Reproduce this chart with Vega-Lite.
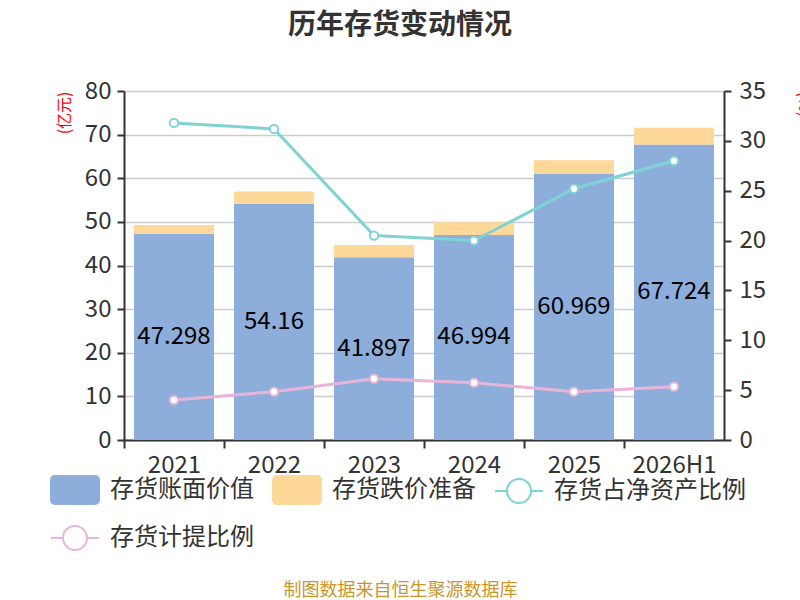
{
  "$schema": "https://vega.github.io/schema/vega-lite/v6.json",
  "width": 600,
  "height": 349,
  "autosize": {"type": "none"},
  "padding": {"left": 124, "top": 91, "right": 76, "bottom": 160},
  "title": {
    "text": "历年存货变动情况",
    "font": "Noto Sans CJK SC",
    "fontSize": 28,
    "fontWeight": "bold",
    "color": "#333333",
    "anchor": "middle",
    "dx": -24,
    "offset": 39
  },
  "config": {
    "view": {"stroke": null},
    "font": "Noto Sans CJK SC",
    "axis": {
      "labelFont": "Noto Sans CJK SC",
      "labelFontSize": 24,
      "labelColor": "#333333",
      "domainColor": "#333333",
      "domainWidth": 2,
      "tickColor": "#333333",
      "tickWidth": 2,
      "gridColor": "#cccccc",
      "gridWidth": 1.5
    }
  },
  "data": {
    "values": [
      {"year": "2021", "series": "存货账面价值", "value": 47.298},
      {"year": "2022", "series": "存货账面价值", "value": 54.16},
      {"year": "2023", "series": "存货账面价值", "value": 41.897},
      {"year": "2024", "series": "存货账面价值", "value": 46.994},
      {"year": "2025", "series": "存货账面价值", "value": 60.969},
      {"year": "2026H1", "series": "存货账面价值", "value": 67.724},
      {"year": "2021", "series": "存货跌价准备", "value": 2.0},
      {"year": "2022", "series": "存货跌价准备", "value": 2.8},
      {"year": "2023", "series": "存货跌价准备", "value": 2.8},
      {"year": "2024", "series": "存货跌价准备", "value": 2.9},
      {"year": "2025", "series": "存货跌价准备", "value": 3.15},
      {"year": "2026H1", "series": "存货跌价准备", "value": 3.85},
      {"year": "2021", "series": "存货占净资产比例", "value": 31.8},
      {"year": "2022", "series": "存货占净资产比例", "value": 31.2},
      {"year": "2023", "series": "存货占净资产比例", "value": 20.5},
      {"year": "2024", "series": "存货占净资产比例", "value": 20.0},
      {"year": "2025", "series": "存货占净资产比例", "value": 25.2},
      {"year": "2026H1", "series": "存货占净资产比例", "value": 28.0},
      {"year": "2021", "series": "存货计提比例", "value": 4.0},
      {"year": "2022", "series": "存货计提比例", "value": 4.85},
      {"year": "2023", "series": "存货计提比例", "value": 6.15},
      {"year": "2024", "series": "存货计提比例", "value": 5.75},
      {"year": "2025", "series": "存货计提比例", "value": 4.85},
      {"year": "2026H1", "series": "存货计提比例", "value": 5.35}
    ]
  },
  "encoding": {
    "x": {
      "field": "year",
      "type": "ordinal",
      "sort": null,
      "scale": {"paddingInner": 0.2, "paddingOuter": 0.1},
      "axis": {
        "title": "制图数据来自恒生聚源数据库",
        "titleFont": "Noto Sans CJK SC",
        "titleFontSize": 18,
        "titleFontWeight": "normal",
        "titleColor": "#C9962C",
        "titleX": 276,
        "titleY": 150,
        "titleAlign": "center",
        "titleBaseline": "middle",
        "labelAngle": 0,
        "tickOffset": -50,
        "labelOffset": 50,
        "tickSize": 8,
        "labelPadding": 5
      }
    }
  },
  "layer": [
    {
      "transform": [{"filter": {"field": "series", "oneOf": ["存货账面价值", "存货跌价准备"]}}],
      "mark": {"type": "bar"},
      "encoding": {
        "y": {
          "field": "value",
          "type": "quantitative",
          "stack": "zero",
          "scale": {"domain": [0, 80], "nice": false},
          "axis": {
            "orient": "left",
            "values": [0, 10, 20, 30, 40, 50, 60, 70, 80],
            "grid": true,
            "tickSize": 7,
            "labelPadding": 6,
            "title": "(亿元)",
            "titleColor": "#ff0000",
            "titleFont": "Noto Sans CJK SC",
            "titleFontSize": 16,
            "titleFontWeight": "normal",
            "titleAnchor": "end",
            "titlePadding": 12
          }
        },
        "fill": {
          "field": "series",
          "type": "nominal",
          "scale": {
            "domain": ["存货账面价值", "存货跌价准备", "存货占净资产比例", "存货计提比例"],
            "range": ["#8DADDB", "#FED898", "#ffffff", "#ffffff"]
          },
          "legend": {
            "title": null,
            "orient": "none",
            "legendX": -74,
            "legendY": 374,
            "direction": "horizontal",
            "columns": 3,
            "padding": 0,
            "columnPadding": 15,
            "rowPadding": 5,
            "labelFont": "Noto Sans CJK SC",
            "labelFontSize": 24,
            "labelColor": "#333333",
            "labelOffset": 10,
            "labelLimit": 300,
            "symbolSize": 2304,
            "symbolStrokeWidth": 2,
            "symbolType": {"expr": "indexof(['存货占净资产比例', '存货计提比例'], datum.value) >= 0 ? 'M-1,0H-0.5A0.5,0.5,0,1,1,0.5,0A0.5,0.5,0,1,1,-0.5,0M0.5,0H1' : 'M-0.85,-0.58H0.85A0.15,0.15,0,0,1,1,-0.43V0.43A0.15,0.15,0,0,1,0.85,0.58H-0.85A0.15,0.15,0,0,1,-1,0.43V-0.43A0.15,0.15,0,0,1,-0.85,-0.58Z'"}
          }
        },
        "order": {"field": "series", "sort": "ascending"}
      }
    },
    {
      "transform": [{"filter": {"field": "series", "equal": "存货账面价值"}}],
      "mark": {"type": "text", "fontSize": 24, "color": "#000000", "baseline": "middle", "font": "Noto Sans CJK SC"},
      "encoding": {
        "y": {
          "field": "value",
          "type": "quantitative",
          "scale": {"domain": [0, 160], "nice": false},
          "axis": null
        },
        "text": {"field": "value", "type": "nominal"}
      }
    },
    {
      "transform": [{"filter": {"field": "series", "oneOf": ["存货占净资产比例", "存货计提比例"]}}],
      "mark": {
        "type": "line",
        "strokeWidth": 3,
        "point": {"filled": false, "fill": "white", "size": 70, "strokeWidth": 2}
      },
      "encoding": {
        "y": {
          "field": "value",
          "type": "quantitative",
          "scale": {"domain": [0, 35], "nice": false},
          "axis": {
            "orient": "right",
            "values": [0, 5, 10, 15, 20, 25, 30, 35],
            "grid": false,
            "tickSize": 7,
            "labelPadding": 8,
            "title": "(%)",
            "titleColor": "#ff0000",
            "titleFont": "Noto Sans CJK SC",
            "titleFontSize": 16,
            "titleFontWeight": "normal",
            "titleAnchor": "end",
            "titleAlign": "left",
            "titlePadding": 30
          }
        },
        "stroke": {
          "field": "series",
          "type": "nominal",
          "scale": {
            "domain": ["存货账面价值", "存货跌价准备", "存货占净资产比例", "存货计提比例"],
            "range": ["#8DADDB", "#FED898", "#7FD3D5", "#E8B5D9"]
          },
          "legend": {
            "title": null,
            "orient": "none",
            "legendX": -74,
            "legendY": 374,
            "direction": "horizontal",
            "columns": 3,
            "padding": 0,
            "columnPadding": 15,
            "rowPadding": 5,
            "labelFont": "Noto Sans CJK SC",
            "labelFontSize": 24,
            "labelColor": "#333333",
            "labelOffset": 10,
            "labelLimit": 300,
            "symbolSize": 2304,
            "symbolStrokeWidth": 2,
            "symbolType": {"expr": "indexof(['存货占净资产比例', '存货计提比例'], datum.value) >= 0 ? 'M-1,0H-0.5A0.5,0.5,0,1,1,0.5,0A0.5,0.5,0,1,1,-0.5,0M0.5,0H1' : 'M-0.85,-0.58H0.85A0.15,0.15,0,0,1,1,-0.43V0.43A0.15,0.15,0,0,1,0.85,0.58H-0.85A0.15,0.15,0,0,1,-1,0.43V-0.43A0.15,0.15,0,0,1,-0.85,-0.58Z'"}
          }
        }
      }
    }
  ],
  "resolve": {"scale": {"y": "independent"}, "axis": {"y": "independent"}}
}
